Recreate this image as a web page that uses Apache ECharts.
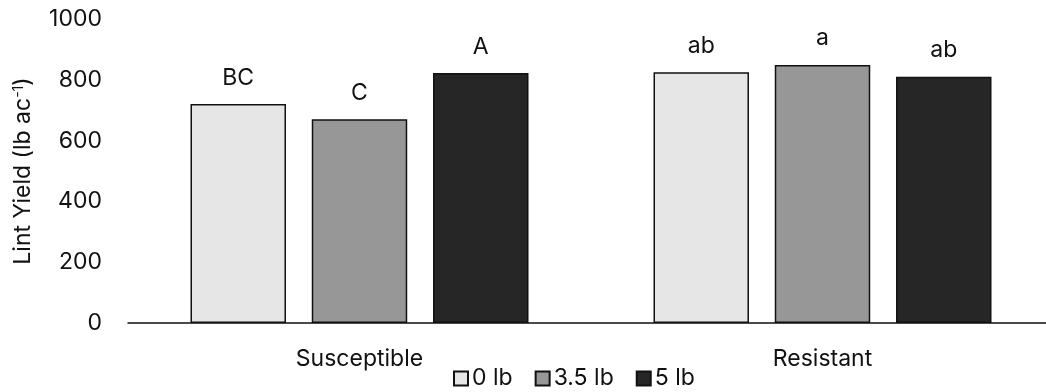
<!DOCTYPE html>
<html>
<head>
<meta charset="utf-8">
<script src="https://cdn.jsdelivr.net/npm/echarts@6/dist/echarts.min.js"></script>
<style>html,body{margin:0;padding:0;background:#fff;}#c{width:1046px;height:392px;}</style>
</head>
<body>
<div id="c"></div>
<script>
const categories = ['Susceptible', 'Resistant'];
const seriesNames = ['0 lb', '3.5 lb', '5 lb'];
const values0 = [720, 825];
const values35 = [670, 849];
const values5 = [822, 810];
const letters0 = ['BC', 'ab'];
const letters35 = ['C', 'a'];
const letters5 = ['A', 'ab'];
const yTicks = [0, 200, 400, 600, 800, 1000];

const colors = ['#e6e6e6', '#979797', '#262626'];
const FONT = 'Inter';
const FS = 23;
const TXT = '#111';

function mkSeries(name, vals, letters, color) {
  return {
    name: name,
    type: 'bar',
    data: vals,
    barGap: '27%',
    barCategoryGap: '27%',
    itemStyle: { color: color, borderColor: '#111', borderWidth: 1.5 },
    label: {
      show: true, position: 'top', distance: 15,
      formatter: p => letters[p.dataIndex],
      fontFamily: FONT, fontSize: FS, color: TXT
    }
  };
}

const chart = echarts.init(document.getElementById('c'), null, { renderer: 'canvas' });
chart.setOption({
  animation: false,
  backgroundColor: '#fff',
  grid: { left: 128, right: -8, top: 19, bottom: 69, containLabel: false, outerBoundsMode: 'none' },
  legend: {
    data: seriesNames.map(n => ({ name: n, icon: 'rect' })),
    left: 453, top: 367, padding: 0,
    itemWidth: 14, itemHeight: 14, itemGap: 22,
    textStyle: { fontFamily: FONT, fontSize: FS, color: TXT, padding: [0, 0, 0, -1] }
  },
  xAxis: {
    type: 'category',
    data: categories,
    axisLine: { show: true, lineStyle: { color: '#111', width: 1.5 } },
    axisTick: { show: false },
    axisLabel: { fontFamily: FONT, fontSize: FS, color: TXT, margin: 25 },
    splitLine: { show: false }
  },
  yAxis: {
    type: 'value',
    min: yTicks[0], max: yTicks[yTicks.length - 1], interval: 200,
    axisLine: { show: false },
    axisTick: { show: false },
    splitLine: { show: false },
    axisLabel: { fontFamily: FONT, fontSize: FS, color: TXT, margin: 26, formatter: v => String(v) },
    name: 'Lint Yield (lb ac{sup|-1})',
    nameLocation: 'middle',
    nameGap: 93,
    nameRotate: 90,
    nameTextStyle: {
      fontFamily: FONT, fontSize: FS, color: TXT,
      rich: { sup: { fontFamily: FONT, fontSize: 14, color: TXT, verticalAlign: 'top', lineHeight: 14, padding: [0, 0, 10, 0] } }
    }
  },
  series: [
    mkSeries(seriesNames[0], values0, letters0, colors[0]),
    mkSeries(seriesNames[1], values35, letters35, colors[1]),
    mkSeries(seriesNames[2], values5, letters5, colors[2])
  ]
});
</script>
</body>
</html>
